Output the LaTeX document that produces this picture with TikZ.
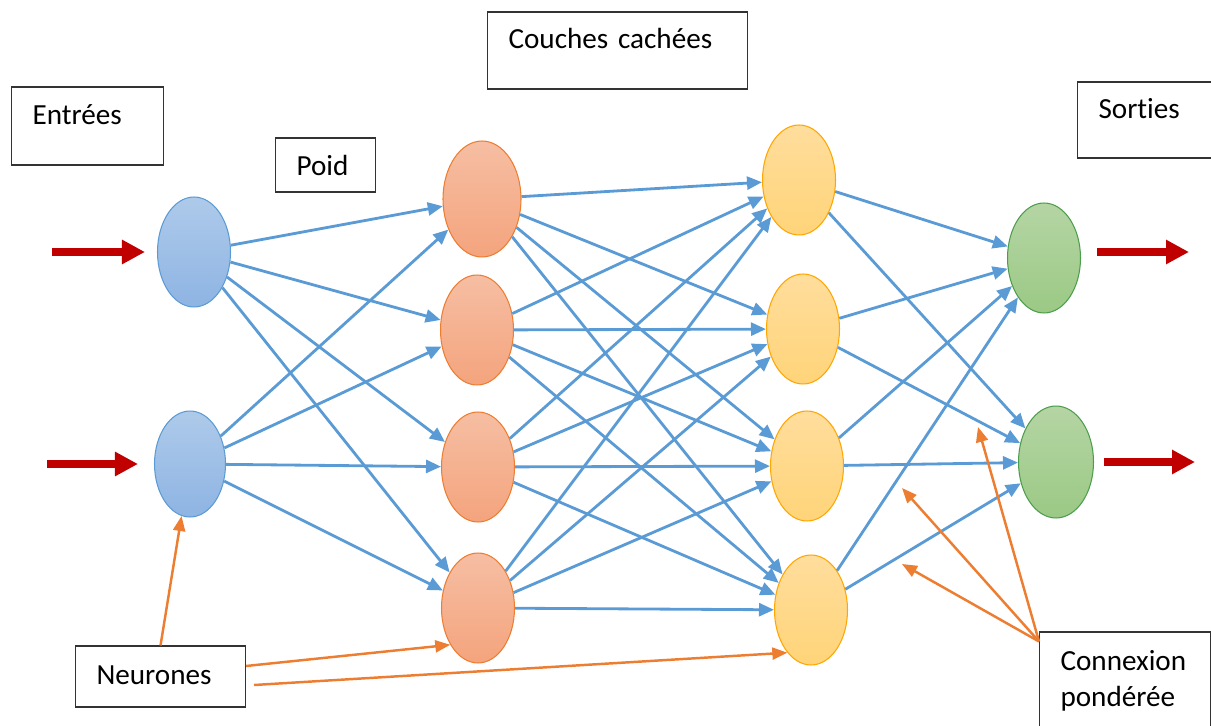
\documentclass[tikz,border=0pt]{standalone}
\usepackage{fontspec}
\setmainfont{Carlito}[Ligatures=NoCommon]
\usetikzlibrary{shapes.geometric,arrows.meta}
\definecolor{lienbleu}{HTML}{5B9BD5}
\definecolor{lienorange}{HTML}{ED7D31}
\definecolor{flecherouge}{HTML}{C00000}
\definecolor{bleuhaut}{HTML}{AECAEA}
\definecolor{bleubas}{HTML}{8EB4E3}
\definecolor{saumonhaut}{HTML}{F6BEA3}
\definecolor{saumonbas}{HTML}{F4A47D}
\definecolor{jaunehaut}{HTML}{FFDD9C}
\definecolor{jaunebas}{HTML}{FFD479}
\definecolor{verthaut}{HTML}{B5D5A4}
\definecolor{vertbas}{HTML}{9BC985}

\begin{document}
\begin{tikzpicture}[x=0.02cm, y=-0.02cm,
  neurone/.style={ellipse, inner sep=0pt, minimum width=1.46cm, minimum height=2.2cm, line width=0.6pt},
  entree/.style={neurone, draw=lienbleu, top color=bleuhaut, bottom color=bleubas},
  cache/.style={neurone, draw=lienorange, top color=saumonhaut, bottom color=saumonbas},
  cachebis/.style={neurone, draw=orange!70!yellow, top color=jaunehaut, bottom color=jaunebas},
  sortie/.style={neurone, draw=green!45!black!70, top color=verthaut, bottom color=vertbas},
  lien/.style={-{Triangle[length=0.3cm,width=0.26cm]}, lienbleu, line width=1.6pt},
  renvoi/.style={-{Triangle[length=0.3cm,width=0.24cm]}, lienorange, line width=1.4pt},
  flux/.style={-{Triangle[length=0.46cm,width=0.46cm]}, flecherouge, line width=5pt},
  cadre/.style={draw=black!80, line width=0.6pt, inner xsep=0.42cm, inner ysep=0pt,
    align=left, anchor=base west, font=\fontsize{16.6}{21}\selectfont}]
\useasboundingbox (0,0) rectangle (1211,726);
% Draw neurons
\node[entree] (i1) at (194,252) {};
\node[entree, minimum width=1.42cm, minimum height=2.12cm] (i2) at (190,464) {};
\node[cache, minimum width=1.56cm, minimum height=2.32cm] (h1a) at (482,199) {};
\node[cache] (h1b) at (477,330) {};
\node[cache] (h1c) at (478,467) {};
\node[cache] (h1d) at (478,608) {};
\node[cachebis] (h2a) at (799,180) {};
\node[cachebis] (h2b) at (803,329) {};
\node[cachebis] (h2c) at (807,466) {};
\node[cachebis] (h2d) at (811,610) {};
\node[sortie] (o1) at (1044,258) {};
\node[sortie, minimum width=1.5cm, minimum height=2.24cm] (o2) at (1056,462) {};
% Draw weighted links
\foreach \a in {i1,i2}
  \foreach \b in {h1a,h1b,h1c,h1d}
    \draw[lien] (\a) -- (\b);
\foreach \a in {h1a,h1b,h1c,h1d}
  \foreach \b in {h2a,h2b,h2c,h2d}
    \draw[lien] (\a) -- (\b);
\foreach \a in {h2a,h2b,h2c,h2d}
  \foreach \b in {o1,o2}
    \draw[lien] (\a) -- (\b);
% Draw inputs and outputs
\coordinate (in1) at (52,252);
\coordinate (in2) at (47,464);
\coordinate (out1) at (1189,252);
\coordinate (out2) at (1195,462);
\draw[flux, shorten >=0.24cm] (in1) -- (i1);
\draw[flux, shorten >=0.32cm] (in2) -- (i2);
\draw[flux, shorten <=0.32cm] (o1.east |- out1) -- (out1);
\draw[flux, shorten <=0.2cm] (o2) -- (out2);
% Draw labels
\node[cadre, text width=2.2cm, text height=0.76cm, text depth=0.8cm] (entrees) at (11,125) {Entrées};
\node[cadre, text width=1.16cm, text height=0.76cm, text depth=0.32cm] (poid) at (275,176) {Poid};
\node[cadre, text width=4.36cm, text height=0.74cm, text depth=0.8cm] (couches) at (487,49) {Couches cachées};
\node[cadre, text width=2.22cm, text height=0.74cm, text depth=0.78cm] (sorties) at (1077,119) {Sorties};
\node[cadre, text width=2.56cm, text height=0.76cm, text depth=0.46cm] (neurones) at (75,684) {Neurones};
\node[cadre, text width=2.58cm, text height=0.76cm, text depth=1.8cm] (connexion) at (1039,670) {Connexion\\pondérée};
% Draw pointers
\coordinate (p1) at (978,427);
\coordinate (p2) at (902,488);
\coordinate (p3) at (902,564);
\draw[renvoi] (neurones.north) -- (i2);
\draw[renvoi] (neurones.7) -- (h1d.233);
\draw[renvoi, shorten <=0.16cm] (neurones.-6) -- (h2d.241);
\draw[renvoi] ([yshift=-0.2cm]connexion.north west) -- (p1);
\draw[renvoi] ([yshift=-0.2cm]connexion.north west) -- (p2);
\draw[renvoi] ([yshift=-0.2cm]connexion.north west) -- (p3);
\end{tikzpicture}
\end{document}
